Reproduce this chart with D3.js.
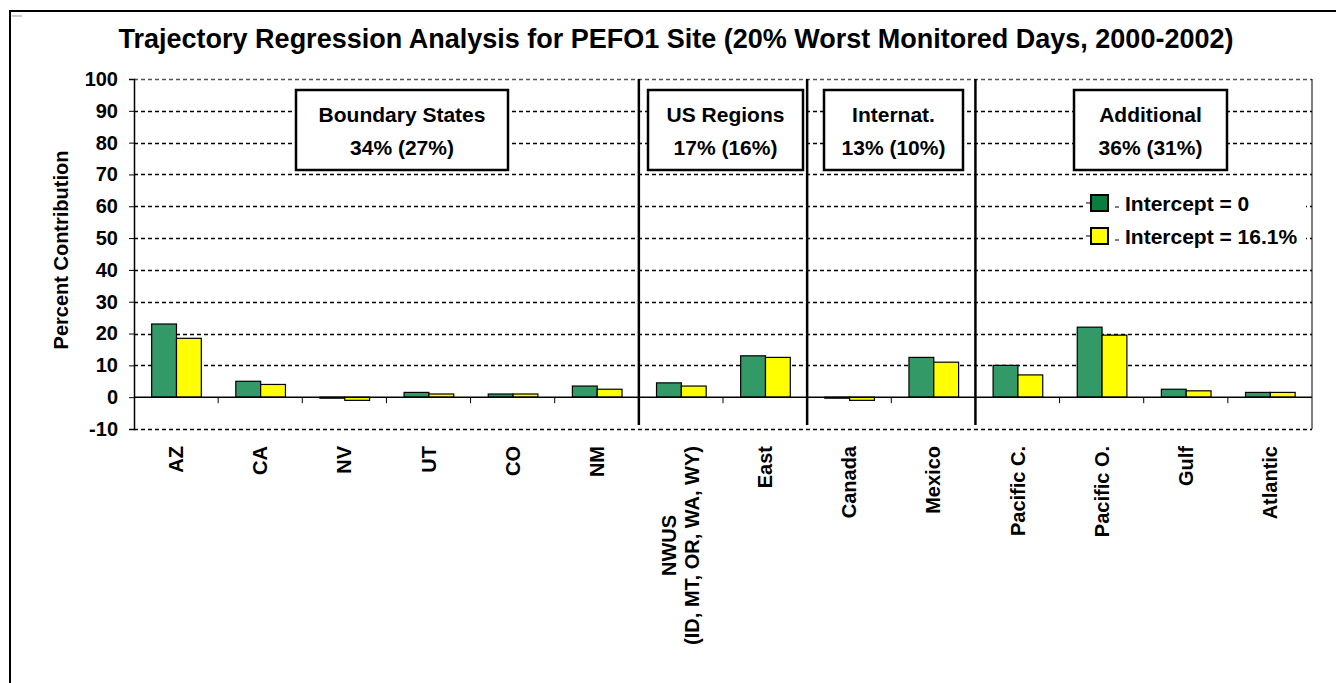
<!DOCTYPE html>
<html>
<head>
<meta charset="utf-8">
<script src="https://cdn.jsdelivr.net/npm/d3@7"></script>
<style>
  body { margin: 0; background: #fff; }
  svg { display: block; font-family: Arial, "Liberation Sans", sans-serif; font-weight: bold; }
</style>
</head>
<body>
<svg id="chart" width="1336" height="683"></svg>
<script>
var categories = ['AZ', 'CA', 'NV', 'UT', 'CO', 'NM', 'NWUS\n(ID, MT, OR, WA, WY)', 'East',
    'Canada', 'Mexico', 'Pacific C.', 'Pacific O.', 'Gulf', 'Atlantic'];
var seriesNames = ['Intercept = 0', 'Intercept = 16.1%'];
var interceptZero = [23, 5, -0.3, 1.5, 1, 3.5, 4.5, 13, 0, 12.5, 10, 22, 2.5, 1.5];
var interceptFit = [18.5, 4, -1, 1, 1, 2.5, 3.5, 12.5, -1, 11, 7, 19.5, 2, 1.5];
var seriesColors = ['#339966', '#ffff00'];
var yTicks = [-10, 0, 10, 20, 30, 40, 50, 60, 70, 80, 90, 100];
// groups: first category index, last category index, header, share
var groups = [
    { from: 0, to: 5, name: 'Boundary States', share: '34% (27%)' },
    { from: 6, to: 7, name: 'US Regions', share: '17% (16%)' },
    { from: 8, to: 9, name: 'Internat.', share: '13% (10%)' },
    { from: 10, to: 13, name: 'Additional', share: '36% (31%)' }
];
var boxes = [[296, 508], [648, 803], [824, 963], [1074, 1227]];

var svg = d3.select('#chart');
var plotLeft = 134, plotRight = 1312, plotTop = 79, plotBottom = 429;

// outer frame
svg.append('rect').attr('x', 10).attr('y', 11).attr('width', 1340).attr('height', 700)
    .attr('fill', 'none').attr('stroke', '#000').attr('stroke-width', 2);
svg.append('line').attr('x1', 12).attr('x2', 22).attr('y1', 16).attr('y2', 16)
    .attr('stroke', '#999').attr('stroke-width', 1);

svg.append('text').attr('x', 676).attr('y', 48).attr('text-anchor', 'middle')
    .style('font-size', '27px')
    .text('Trajectory Regression Analysis for PEFO1 Site (20% Worst Monitored Days, 2000-2002)');

var y = d3.scaleLinear().domain([-10, 100]).range([plotBottom, plotTop]);
var x0 = d3.scaleBand().domain(d3.range(categories.length)).range([plotLeft, plotRight]);
var x1 = d3.scaleBand().domain([0, 1]).range([x0.bandwidth() * 0.21, x0.bandwidth() * 0.8]);

// gridlines
svg.append('g').selectAll('line').data(yTicks.filter(function(d) { return d !== 0; }))
    .enter().append('line')
    .attr('x1', plotLeft).attr('x2', plotRight)
    .attr('y1', function(d) { return Math.round(y(d)) + 0.5; })
    .attr('y2', function(d) { return Math.round(y(d)) + 0.5; })
    .attr('stroke', function(d) { return d === 100 ? '#555' : '#000'; })
    .attr('stroke-width', 1.5).attr('stroke-dasharray', '4,3');

// right border
svg.append('line').attr('x1', plotRight).attr('x2', plotRight).attr('y1', plotTop).attr('y2', plotBottom)
    .attr('stroke', '#000').attr('stroke-width', 1);

// y axis
var yAxis = svg.append('g').attr('transform', 'translate(' + plotLeft + ',0)')
    .call(d3.axisLeft(y).tickValues(yTicks).tickSize(5).tickPadding(11)
        .tickFormat(function(d) { return String(d); }));
yAxis.select('.domain').attr('stroke-width', 1.5);
yAxis.selectAll('text').style('font-size', '20px').style('font-family', 'Arial, "Liberation Sans", sans-serif')
    .style('font-weight', 'bold').attr('fill', '#000');

svg.append('text').attr('transform', 'translate(68,250) rotate(-90)')
    .attr('text-anchor', 'middle').style('font-size', '20px').text('Percent Contribution');

// bars
var rows = categories.map(function(c, i) { return [interceptZero[i], interceptFit[i]]; });
var grp = svg.append('g').selectAll('g').data(rows).enter().append('g')
    .attr('transform', function(d, i) { return 'translate(' + x0(i) + ',0)'; });
grp.selectAll('rect').data(function(d) { return d; }).enter().append('rect')
    .attr('x', function(d, j) { return x1(j); })
    .attr('width', x1.bandwidth())
    .attr('y', function(d) { return Math.min(y(d), y(0)); })
    .attr('height', function(d) { return Math.max(Math.abs(y(d) - y(0)), 1); })
    .attr('fill', function(d, j) { return seriesColors[j]; })
    .attr('stroke', '#000').attr('stroke-width', 1.2);

// zero axis with ticks between categories
svg.append('line').attr('x1', plotLeft).attr('x2', plotRight).attr('y1', y(0)).attr('y2', y(0))
    .attr('stroke', '#000').attr('stroke-width', 1.5);
svg.append('g').selectAll('line').data(d3.range(1, categories.length)).enter().append('line')
    .attr('x1', function(i) { return x0(i); }).attr('x2', function(i) { return x0(i); })
    .attr('y1', y(0)).attr('y2', y(0) + 6).attr('stroke', '#000').attr('stroke-width', 1);

// group separators
svg.append('g').selectAll('line').data(groups.slice(1)).enter().append('line')
    .attr('x1', function(g) { return x0(g.from); }).attr('x2', function(g) { return x0(g.from); })
    .attr('y1', plotTop).attr('y2', plotBottom - 4).attr('stroke', '#000').attr('stroke-width', 2.5);

// category labels, rotated
var labelTop = 446;
categories.forEach(function(c, i) {
    var lines = c.split('\n');
    var cx = x0(i) + x0.bandwidth() / 2;
    var t = svg.append('text').style('font-size', '20px').attr('text-anchor', 'middle');
    lines.forEach(function(l, k) {
        t.append('tspan').attr('x', 0).attr('dy', k === 0 ? 0 : '1.15em').text(l);
    });
    var longest = d3.max(t.selectAll('tspan').nodes(), function(n) { return n.getComputedTextLength(); });
    var shift = (lines.length - 1) * 23 / 2;
    t.attr('transform', 'translate(' + (cx + 7 - shift) + ',' + (labelTop + longest / 2) + ') rotate(-90)');
});

// group boxes
groups.forEach(function(g, i) {
    var bx = boxes[i];
    svg.append('rect').attr('x', bx[0]).attr('y', 90).attr('width', bx[1] - bx[0]).attr('height', 80)
        .attr('fill', '#fff').attr('stroke', '#000').attr('stroke-width', 2.5);
    var cx = (bx[0] + bx[1]) / 2;
    svg.append('text').attr('x', cx).attr('y', 122).attr('text-anchor', 'middle')
        .style('font-size', '21px').text(g.name);
    svg.append('text').attr('x', cx).attr('y', 155).attr('text-anchor', 'middle')
        .style('font-size', '21px').text(g.share);
});

// legend
svg.append('rect').attr('x', 1084).attr('y', 188).attr('width', 222).attr('height', 64).attr('fill', '#fff');
var legend = svg.append('g').selectAll('g').data(seriesNames).enter().append('g')
    .attr('transform', function(d, i) { return 'translate(1086,' + (203 + i * 33) + ')'; });
legend.append('line').attr('x1', 0).attr('x2', 4).attr('y1', 0).attr('y2', 0).attr('stroke', '#000');
legend.append('line').attr('x1', 29).attr('x2', 33).attr('y1', 4).attr('y2', 4).attr('stroke', '#000');
legend.append('rect').attr('x', 5).attr('y', -8).attr('width', 17).attr('height', 16)
    .attr('fill', function(d, i) { return i === 0 ? '#0b7d3e' : seriesColors[1]; })
    .attr('stroke', '#000').attr('stroke-width', 2);
legend.append('text').attr('x', 39).attr('y', 8).style('font-size', '21px').text(function(d) { return d; });
</script>
</body>
</html>
